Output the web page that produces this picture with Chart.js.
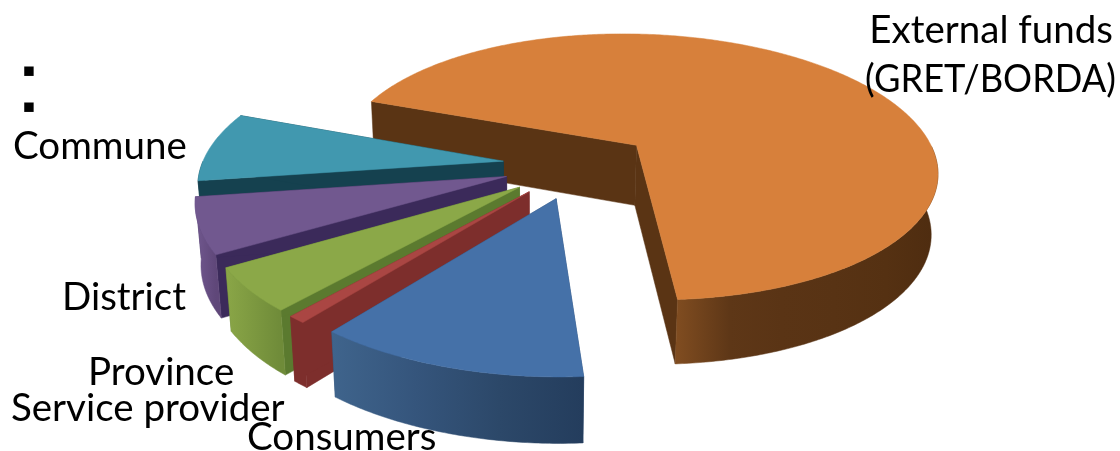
<!DOCTYPE html>
<html>
<head>
<meta charset="utf-8">
<script src="https://cdn.jsdelivr.net/npm/chart.js@4"></script>
<style>
  body { margin: 0; background: #fff; }
  canvas { display: block; }
</style>
</head>
<body>
<canvas id="myPie" width="1120" height="451"></canvas>
<script>
// values (percent of total, clockwise from the big slice)
const categories = ['External funds (GRET/BORDA)', 'Consumers', 'Service provider', 'Province', 'District', 'Commune'];
const shares = [68.15, 11.75, 0.8, 4.9, 6.3, 8.1];

const topColors = ['#d7803b', '#4571a8', '#aa4643', '#8ba848', '#71588f', '#4198af'];
const cutColors = ['#5a3414', '#2f4c72', '#7d2e2c', '#5b7a2f', '#3b2a5a', '#15414f'];
const wallColors = [
  ['#7f4c20', '#5e3717', '#5a3415', '#583314', '#553112', '#4e2c10'],
  ['#3f648c', '#35557c', '#2c4869', '#243d5d'],
  ['#7d2e2c', '#7d2e2c'],
  ['#8aa647', '#6f8b39'],
  ['#71588f', '#5f4779'],
  ['#15414f', '#15414f']
];
const paintOrder = [0, 5, 4, 3, 2, 1];

// text placed by hand, same as the slide it came from
const textLines = [
  { text: 'External funds', x: 1113, y: 43, align: 'right' },
  { text: '(GRET/BORDA)', x: 1116, y: 92, align: 'right', width: 251 },
  { text: 'Commune', x: 13, y: 159, align: 'left' },
  { text: 'District', x: 62, y: 310, align: 'left' },
  { text: 'Province', x: 88, y: 385, align: 'left' },
  { text: 'Service provider', x: 11, y: 421, align: 'left' },
  { text: 'Consumers', x: 247, y: 450, align: 'left' }
];

// perspective of the pie, fitted on the big slice
const originX = 638, originY = 144;
const vanishX = 540;
const tilt = 0.439, persp = 0.162;
const shiftX = -0.207, shiftY = 0.158;
const depth = 60;

function project(R, px, py) {
  const X = px + shiftX * R;
  const Y = py + shiftY * R;
  const g = 1 / (1 - persp * Y / R);
  return { x: vanishX + (originX - vanishX + X) * g, y: originY + Y * tilt * g, g: g };
}

function lower(p) {
  return { x: vanishX + (p.x - vanishX) * 0.983, y: p.y + depth * Math.pow(p.g, 0.4) };
}

function fillPoly(ctx, pts, fill) {
  ctx.beginPath();
  pts.forEach((p, i) => i ? ctx.lineTo(p.x, p.y) : ctx.moveTo(p.x, p.y));
  ctx.closePath();
  ctx.fillStyle = fill;
  ctx.fill();
  ctx.strokeStyle = fill;
  ctx.lineWidth = 0.5;
  ctx.stroke();
}

const pie3d = {
  id: 'pie3d',
  beforeDatasetDraw(chart, args) {
    const ctx = chart.ctx;
    const arcs = args.meta.data;
    paintOrder.forEach((i) => {
      const arc = arcs[i];
      const { startAngle, endAngle, outerRadius } = arc.getProps(['startAngle', 'endAngle', 'outerRadius'], true);
      const R = outerRadius;
      const mid = (startAngle + endAngle) / 2;
      const off = arc.options.offset / 4;
      const ax = Math.cos(mid) * off, ay = Math.sin(mid) * off;
      const apex = project(R, ax, ay);

      const rim = [];
      const steps = Math.max(4, Math.ceil((endAngle - startAngle) / 0.01));
      for (let s = 0; s <= steps; s++) {
        const t = startAngle + (endAngle - startAngle) * s / steps;
        const p = project(R, ax + Math.cos(t) * R, ay + Math.sin(t) * R);
        p.front = Math.sin(t) > 0;
        rim.push(p);
      }

      // the two cut faces
      [rim[0], rim[rim.length - 1]].forEach((p) => {
        fillPoly(ctx, [apex, p, lower(p), lower(apex)], cutColors[i]);
      });

      // outer wall, only the part facing the viewer
      const front = rim.filter((p) => p.front);
      if (front.length > 1) {
        const xs = front.map((p) => p.x);
        const grad = ctx.createLinearGradient(Math.min(...xs), 0, Math.max(...xs), 0);
        wallColors[i].forEach((c, k) => grad.addColorStop(k / (wallColors[i].length - 1), c));
        fillPoly(ctx, front.concat(front.map(lower).reverse()), grad);
      }

      // top face
      fillPoly(ctx, [apex].concat(rim), topColors[i]);
    });
    return false;
  },
  afterDatasetsDraw(chart) {
    const ctx = chart.ctx;
    ctx.save();
    ctx.fillStyle = '#000';
    ctx.textBaseline = 'alphabetic';
    ctx.font = '38.5px Lato';
    textLines.forEach((l) => {
      ctx.textAlign = l.align;
      ctx.fillText(l.text, l.x, l.y, l.width);
    });
    ctx.font = '19px "DejaVu Sans"';
    ctx.textAlign = 'center';
    ctx.fillText('▪', 29, 76);
    ctx.fillText('▪', 29, 112);
    ctx.restore();
  }
};

new Chart(document.getElementById('myPie'), {
  type: 'pie',
  data: {
    labels: categories,
    datasets: [{
      data: shares,
      backgroundColor: topColors,
      borderWidth: 0,
      offset: 294,
      radius: 294,
      clip: false
    }]
  },
  options: {
    responsive: false,
    animation: false,
    rotation: 291,
    events: [],
    plugins: { legend: { display: false }, tooltip: { enabled: false } }
  },
  plugins: [pie3d]
});
</script>
</body>
</html>
